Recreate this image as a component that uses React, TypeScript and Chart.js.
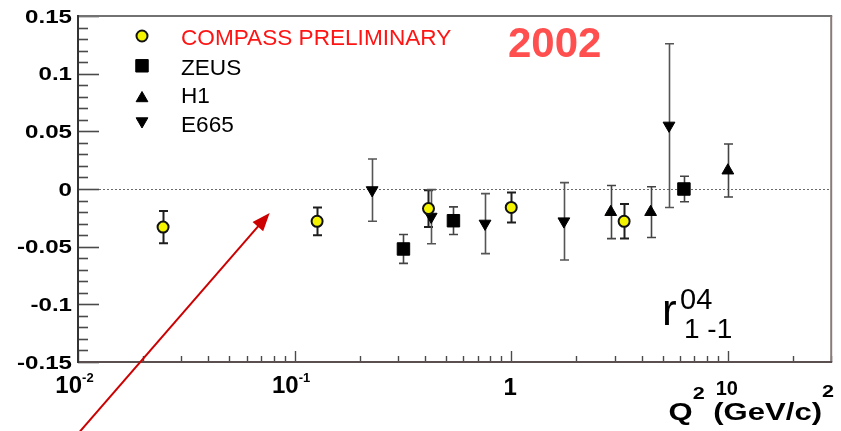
import React, { useEffect, useRef } from 'react';
import { Chart, registerables } from 'chart.js';
import { drawPoint } from 'chart.js/helpers';

Chart.register(...registerables);

// r^04_{1-1} versus Q^2 for the four experiments
const compassQ2 = [0.0247, 0.127, 0.415, 1.0, 3.32];
const compassR = [-0.033, -0.028, -0.017, -0.016, -0.028];
const compassErr = [0.014, 0.012, 0.016, 0.013, 0.015];

const zeusQ2 = [0.318, 0.541, 6.27];
const zeusR = [-0.052, -0.0275, 0.0];
const zeusErr = [0.0125, 0.012, 0.011];

const h1Q2 = [2.88, 4.4, 10.0];
const h1R = [-0.02, -0.02, 0.016];
const h1Err = [0.023, 0.022, 0.023];

const e665Q2 = [0.228, 0.427, 0.757, 1.75, 5.35];
const e665R = [-0.001, -0.024, -0.03, -0.028, 0.055];
const e665Err = [0.027, 0.0235, 0.026, 0.0335, 0.071];

const seriesNames = ['COMPASS PRELIMINARY', 'ZEUS', 'H1', 'E665'];

const yTickValues = [-0.15, -0.1, -0.05, 0, 0.05, 0.1, 0.15];
const yTickLabels = ['-0.15', '-0.1', '-0.05', '0', '0.05', '0.1', '0.15'];
const xDecades = [0.01, 0.1, 1, 10];
const xDecadeBase = ['10', '10', '1', '10'];
const xDecadeExp = ['-2', '-1', '', ''];

const xMin = 0.01;
const xMax = 30;
const yMin = -0.15;
const yMax = 0.15;

// arrow annotation, in (Q^2, r) coordinates
const arrowTail = [0.0094, -0.218];
const arrowTip = [0.0767, -0.0208];

const FONT = '"Liberation Sans", Arial, Helvetica, sans-serif';

type Piece = { t: string; f: string; dy: number };

function drawPieces(ctx: CanvasRenderingContext2D, pieces: Piece[], x: number, y: number, align: 'left' | 'center' | 'right', sx: number, color: string) {
  ctx.save();
  ctx.fillStyle = color;
  ctx.textAlign = 'left';
  ctx.textBaseline = 'alphabetic';
  const widths = pieces.map((p) => {
    ctx.font = p.f;
    return ctx.measureText(p.t).width;
  });
  const total = widths.reduce((a, b) => a + b, 0) * sx;
  const x0 = align === 'right' ? x - total : align === 'center' ? x - total / 2 : x;
  ctx.translate(x0, y);
  ctx.scale(sx, 1);
  let cx = 0;
  pieces.forEach((p, i) => {
    ctx.font = p.f;
    ctx.fillText(p.t, cx, p.dy);
    cx += widths[i];
  });
  ctx.restore();
  return total;
}

const series = [
  { name: seriesNames[0], xs: compassQ2, ys: compassR, es: compassErr, style: 'circle', radius: 5.5, rot: 0, fill: '#f4f400', border: '#111111', bw: 2, bar: '#1e1e1e', barW: 2 },
  { name: seriesNames[1], xs: zeusQ2, ys: zeusR, es: zeusErr, style: 'rect', radius: 8.8, rot: 0, fill: '#000000', border: '#000000', bw: 1, bar: '#444444', barW: 1.6 },
  { name: seriesNames[2], xs: h1Q2, ys: h1R, es: h1Err, style: 'triangle', radius: 6.8, rot: 0, fill: '#000000', border: '#000000', bw: 1, bar: '#444444', barW: 1.6 },
  { name: seriesNames[3], xs: e665Q2, ys: e665R, es: e665Err, style: 'triangle', radius: 6.8, rot: 180, fill: '#000000', border: '#000000', bw: 1, bar: '#555555', barW: 1.6 },
];

const framePlugin = {
  id: 'frameAndBars',
  beforeDatasetsDraw(chart: any) {
    const { ctx, chartArea, scales } = chart;
    const { left, right, top, bottom } = chartArea;
    const xs = scales.x;
    const ys = scales.y;
    ctx.save();

    // dotted zero line
    const y0 = Math.round(ys.getPixelForValue(0)) + 0.5;
    ctx.strokeStyle = '#6a6a6a';
    ctx.lineWidth = 1;
    ctx.setLineDash([2, 2]);
    ctx.beginPath();
    ctx.moveTo(left + 21, y0);
    ctx.lineTo(right, y0);
    ctx.stroke();
    ctx.setLineDash([]);

    // y ticks (inside, on the left axis)
    ctx.strokeStyle = '#4a4a4a';
    ctx.lineWidth = 1.6;
    for (let k = -15; k <= 15; k++) {
      const py = Math.round(ys.getPixelForValue(k / 100)) + 0.5;
      const len = k % 5 === 0 ? 21 : 10;
      ctx.beginPath();
      ctx.moveTo(left, py);
      ctx.lineTo(left + len, py);
      ctx.stroke();
    }

    // x ticks (inside, on the bottom axis)
    ctx.lineWidth = 1.4;
    xDecades.forEach((d) => {
      for (let m = 1; m <= 9; m++) {
        const v = m * d;
        if (v < xMin || v > xMax) continue;
        const px = Math.round(xs.getPixelForValue(v)) + 0.5;
        const len = m === 1 ? 11 : 6;
        ctx.beginPath();
        ctx.moveTo(px, bottom);
        ctx.lineTo(px, bottom - len);
        ctx.stroke();
      }
    });

    // frame
    ctx.lineWidth = 2;
    ctx.strokeStyle = '#727272';
    ctx.beginPath();
    ctx.moveTo(left, top);
    ctx.lineTo(right + 1, top);
    ctx.stroke();
    ctx.strokeStyle = '#8a7b7b';
    ctx.beginPath();
    ctx.moveTo(right, top);
    ctx.lineTo(right, bottom);
    ctx.stroke();
    ctx.strokeStyle = '#5a5050';
    ctx.beginPath();
    ctx.moveTo(left, bottom);
    ctx.lineTo(right + 1, bottom);
    ctx.stroke();
    ctx.strokeStyle = '#333333';
    ctx.beginPath();
    ctx.moveTo(left, top - 1);
    ctx.lineTo(left, bottom + 1);
    ctx.stroke();

    // error bars
    series.forEach((s) => {
      ctx.strokeStyle = s.bar;
      ctx.lineWidth = s.barW;
      s.xs.forEach((q, i) => {
        const px = Math.round(xs.getPixelForValue(q)) + 0.5;
        const pHi = ys.getPixelForValue(s.ys[i] + s.es[i]);
        const pLo = ys.getPixelForValue(s.ys[i] - s.es[i]);
        ctx.beginPath();
        ctx.moveTo(px, pHi);
        ctx.lineTo(px, pLo);
        ctx.moveTo(px - 4.5, pHi);
        ctx.lineTo(px + 4.5, pHi);
        ctx.moveTo(px - 4.5, pLo);
        ctx.lineTo(px + 4.5, pLo);
        ctx.stroke();
      });
    });
    ctx.restore();
  },
};

const labelPlugin = {
  id: 'labels',
  afterDraw(chart: any) {
    const { ctx, chartArea, scales } = chart;
    const { left } = chartArea;
    const xs = scales.x;
    const ys = scales.y;
    ctx.save();

    // y tick labels
    yTickValues.forEach((v, i) => {
      const py = ys.getPixelForValue(v);
      drawPieces(ctx, [{ t: yTickLabels[i], f: `bold 19px ${FONT}`, dy: 0 }], left - 6, py + 6.8, 'right', 1.27, '#000');
    });

    // x decade labels
    xDecades.forEach((d, i) => {
      const px = xs.getPixelForValue(d);
      const hasExp = xDecadeExp[i] !== '';
      const baseSize = i === 3 ? 20 : 24;
      const pieces: Piece[] = [{ t: xDecadeBase[i], f: `bold ${baseSize}px ${FONT}`, dy: 0 }];
      if (hasExp) pieces.push({ t: xDecadeExp[i], f: `bold 13px ${FONT}`, dy: -11.5 });
      drawPieces(ctx, pieces, hasExp ? px - 3.5 : px - 1, hasExp ? 393 : 395, 'center', 1, '#000');
    });

    // x axis title
    const titlePieces: Piece[] = [
      { t: 'Q', f: `bold 23px ${FONT}`, dy: 0 },
      { t: '2', f: `bold 16px ${FONT}`, dy: -21.5 },
      { t: ' (GeV/c)', f: `bold 23px ${FONT}`, dy: 0 },
      { t: '2', f: `bold 16px ${FONT}`, dy: -23.5 },
    ];
    drawPieces(ctx, titlePieces, 834, 420, 'right', 1.35, '#000');

    // legend
    const legendX = 142;
    const markerY = [36, 65.8, 98.3, 121.2];
    const textBase = [45, 74.5, 102.5, 132];
    series.forEach((s, i) => {
      ctx.fillStyle = s.fill;
      ctx.strokeStyle = s.border;
      ctx.lineWidth = s.bw;
      drawPoint(ctx, { pointStyle: s.style, radius: s.radius, rotation: s.rot, borderWidth: s.bw } as any, legendX, markerY[i]);
      drawPieces(ctx, [{ t: s.name, f: `22.6px ${FONT}`, dy: 0 }], 181, textBase[i], 'left', 1, i === 0 ? '#ff1414' : '#000');
    });

    // year
    drawPieces(ctx, [{ t: '2002', f: `bold 42px ${FONT}`, dy: 0 }], 508, 57, 'left', 1, '#ff4f4f');

    // observable name
    drawPieces(ctx, [{ t: 'r', f: `44px ${FONT}`, dy: 0 }], 662, 325, 'left', 1, '#000');
    drawPieces(ctx, [{ t: '04', f: `29px ${FONT}`, dy: 0 }], 680, 309, 'left', 1, '#000');
    drawPieces(ctx, [{ t: '1 -1', f: `28px ${FONT}`, dy: 0 }], 684, 338, 'left', 1, '#000');

    // arrow
    const tx = xs.getPixelForValue(arrowTip[0]);
    const ty = ys.getPixelForValue(arrowTip[1]);
    const sx0 = xs.getPixelForValue(arrowTail[0]);
    const sy0 = ys.getPixelForValue(arrowTail[1]);
    const dx = tx - sx0;
    const dy = ty - sy0;
    const len = Math.hypot(dx, dy);
    const ux = dx / len;
    const uy = dy / len;
    const headL = 18;
    const headW = 7;
    ctx.strokeStyle = '#cc0000';
    ctx.fillStyle = '#cc0000';
    ctx.lineWidth = 2;
    ctx.beginPath();
    ctx.moveTo(sx0, sy0);
    ctx.lineTo(tx - ux * (headL - 2), ty - uy * (headL - 2));
    ctx.stroke();
    ctx.beginPath();
    ctx.moveTo(tx, ty);
    ctx.lineTo(tx - ux * headL - uy * headW, ty - uy * headL + ux * headW);
    ctx.lineTo(tx - ux * headL + uy * headW, ty - uy * headL - ux * headW);
    ctx.closePath();
    ctx.fill();

    ctx.restore();
  },
};

export default function App() {
  const canvasRef = useRef<HTMLCanvasElement | null>(null);

  useEffect(() => {
    document.body.style.margin = '0';
    const canvas = canvasRef.current;
    if (!canvas) return;
    const chart = new Chart(canvas, {
      type: 'scatter',
      data: {
        datasets: series.map((s) => ({
          label: s.name,
          data: s.xs.map((q, i) => ({ x: q, y: s.ys[i] })),
          pointStyle: s.style as any,
          pointRadius: s.radius,
          pointRotation: s.rot,
          pointBackgroundColor: s.fill,
          pointBorderColor: s.border,
          pointBorderWidth: s.bw,
          showLine: false,
        })),
      },
      options: {
        responsive: false,
        animation: false,
        devicePixelRatio: 1,
        events: [],
        layout: { padding: { left: 78, top: 16, right: 9, bottom: 69 } },
        scales: {
          x: { type: 'logarithmic', min: xMin, max: xMax, display: false },
          y: { type: 'linear', min: yMin, max: yMax, display: false },
        },
        plugins: {
          legend: { display: false },
          tooltip: { enabled: false },
        },
      },
      plugins: [framePlugin, labelPlugin],
    });
    return () => chart.destroy();
  }, []);

  return (
    <div style={{ position: 'absolute', left: 0, top: 0, width: 841, height: 431, background: '#fff' }}>
      <canvas ref={canvasRef} width={841} height={431} style={{ display: 'block', width: 841, height: 431 }} />
    </div>
  );
}
